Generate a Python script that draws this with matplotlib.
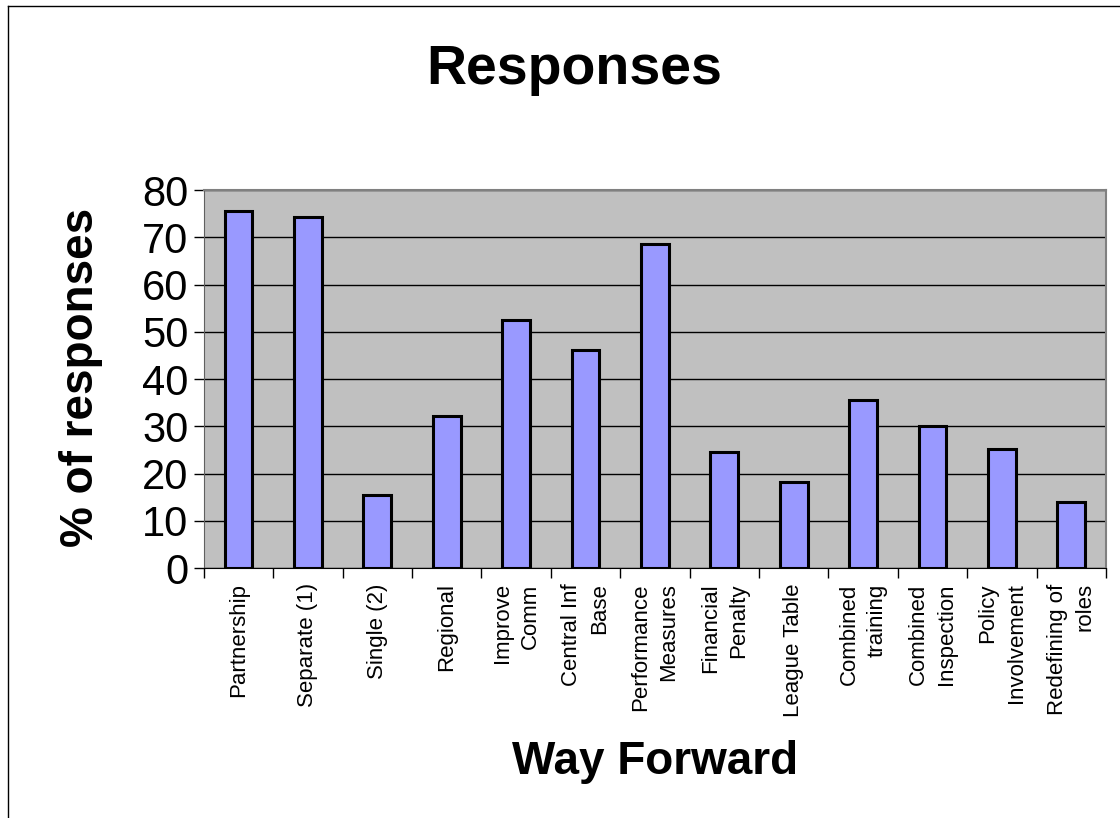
import numpy as np
import matplotlib
matplotlib.use("Agg")
import matplotlib.pyplot as plt
from matplotlib.lines import Line2D

plt.rcParams["font.family"] = ["Liberation Sans", "DejaVu Sans"]

categories = [
    "Partnership", "Separate (1)", "Single (2)", "Regional", "Improve\nComm",
    "Central Inf\nBase", "Performance\nMeasures", "Financial\nPenalty",
    "League Table", "Combined\ntraining", "Combined\nInspection",
    "Policy\nInvolvement", "Redefining of\nroles",
]
responses = [75.6, 74.3, 15.4, 32.2, 52.5, 46.1, 68.6, 24.6, 18.2, 35.6, 30.1, 25.2, 14.0]
y_ticks = [0, 10, 20, 30, 40, 50, 60, 70, 80]

fig = plt.figure(figsize=(11.2, 8.18), dpi=100)
ax = fig.add_axes([0.182, 0.3056, 0.8055, 0.4621])

x = np.arange(len(categories))
ax.set_facecolor("#C0C0C0")
ax.bar(x, responses, width=0.4, color="#9999FF", edgecolor="black", linewidth=2.2, zorder=3)

ax.set_xlim(-0.5, len(categories) - 0.5)
ax.set_ylim(0, 80)
ax.set_yticks(y_ticks)
ax.set_yticklabels([str(v) for v in y_ticks], fontsize=30)
ax.yaxis.grid(True, color="black", linewidth=1, zorder=1)
ax.set_axisbelow(True)

ax.set_xticks(x)
ax.set_xticklabels(categories, rotation=90, fontsize=16, va="top", ha="center", ma="right",
                   linespacing=1.45)
ax.set_xticks(np.arange(-0.5, len(categories)), minor=True)
ax.tick_params(axis="x", which="major", length=0, pad=11)
ax.tick_params(axis="x", which="minor", length=7, width=1, direction="out")
ax.tick_params(axis="y", length=7, width=1, direction="out", pad=4)

for side in ["top", "right"]:
    ax.spines[side].set_color("#808080")
    ax.spines[side].set_linewidth(1.5)
ax.spines["left"].set_color("#606060")
ax.spines["bottom"].set_color("black")

fig.text(0.513, 0.914, "Responses", ha="center", va="center", fontsize=40, fontweight="bold")
fig.text(0.072, 0.539, "% of responses", ha="center", va="center", rotation=90,
         fontsize=33, fontweight="bold")
fig.text(0.585, 0.068, "Way Forward", ha="center", va="center", fontsize=33, fontweight="bold")

fig.add_artist(Line2D([8 / 1120, 8 / 1120], [0, 1 - 6 / 818], transform=fig.transFigure,
                      color="black", linewidth=1))
fig.add_artist(Line2D([8 / 1120, 1], [1 - 6 / 818, 1 - 6 / 818], transform=fig.transFigure,
                      color="black", linewidth=1))

plt.savefig("out.png", dpi=100)
